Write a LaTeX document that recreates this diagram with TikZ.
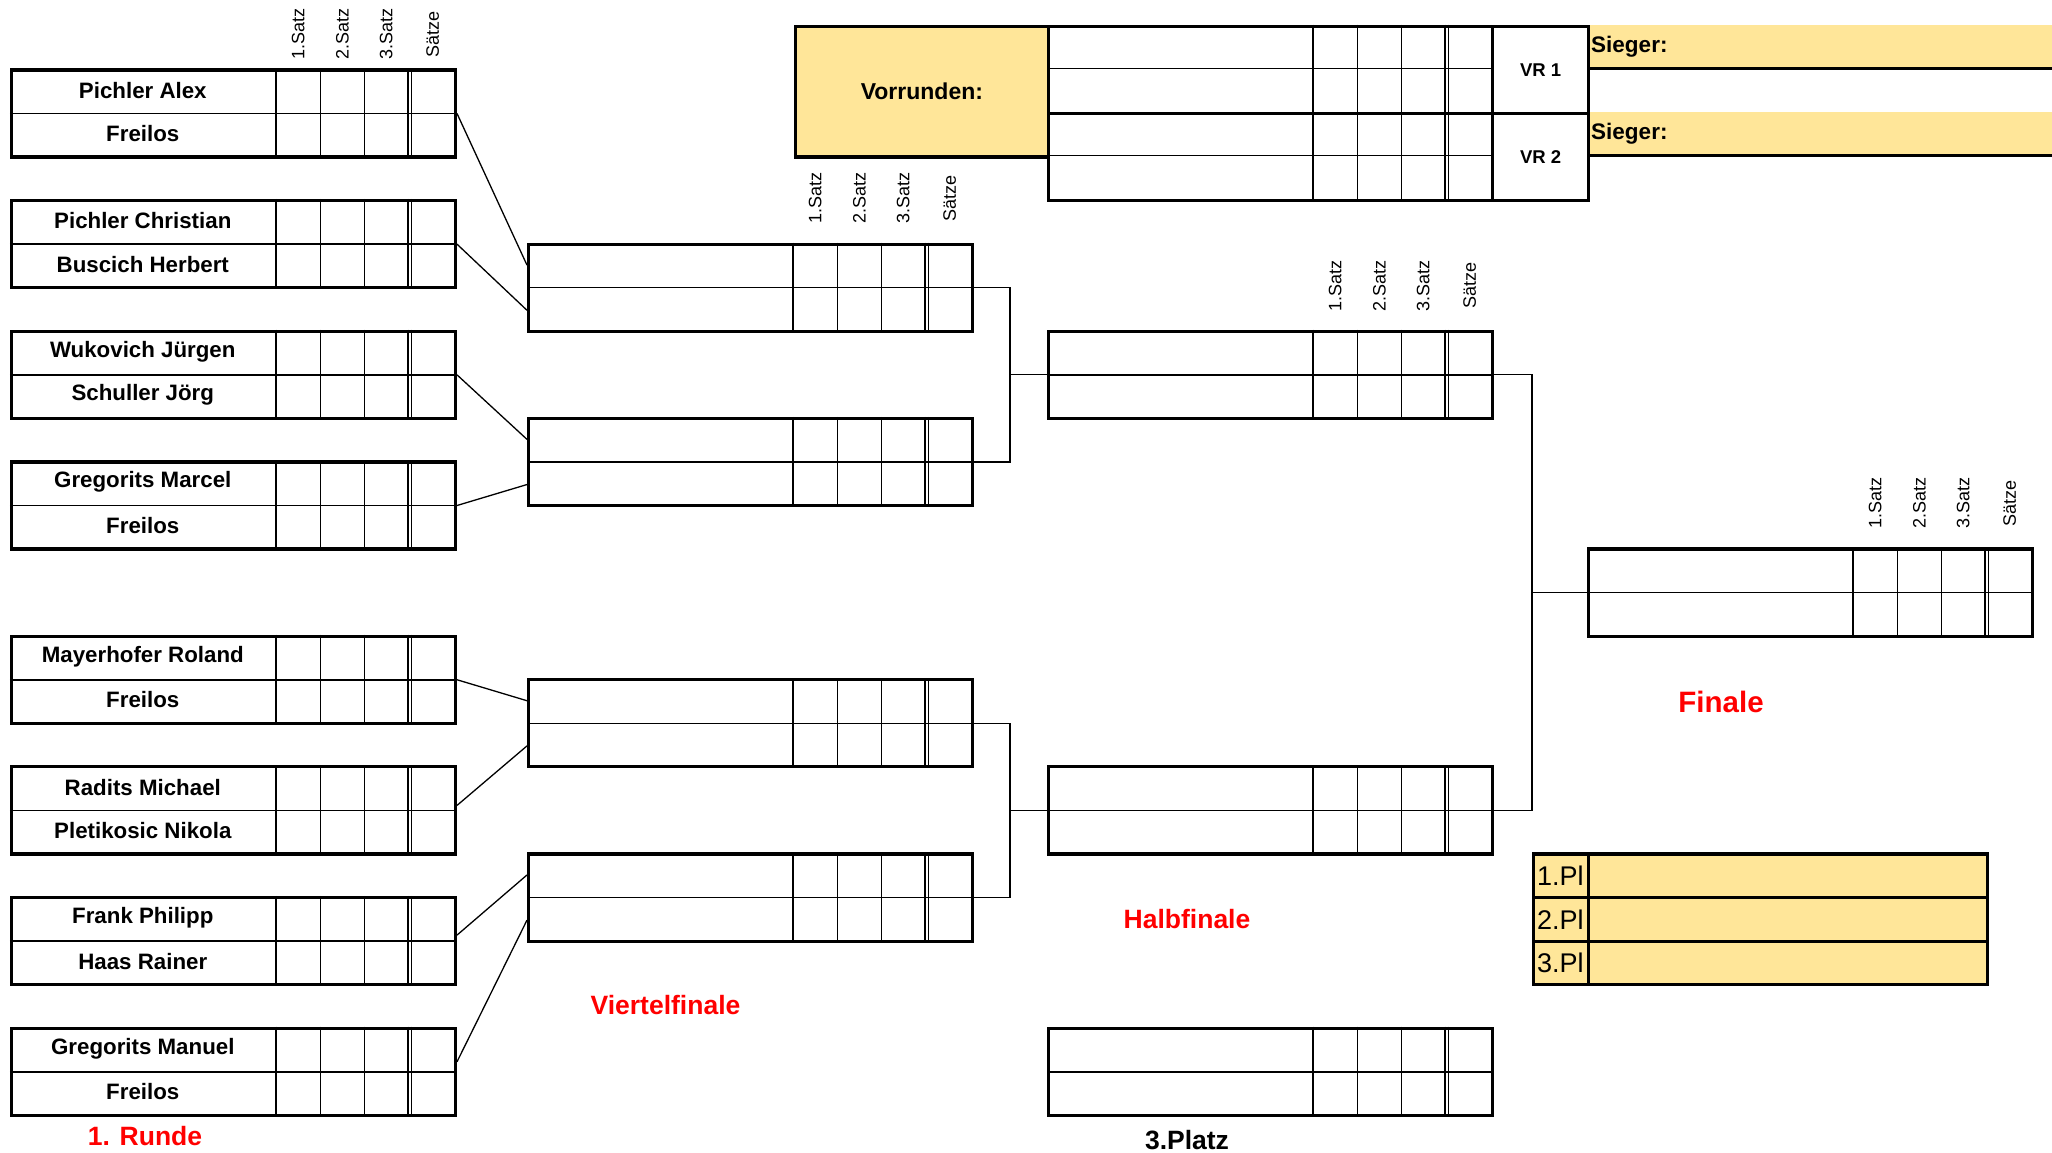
\documentclass[tikz,border=0pt]{standalone}
\usepackage{fontspec}
\setmainfont{Liberation Sans}
\usetikzlibrary{calc}
\definecolor{gold}{HTML}{FFE699}
\definecolor{lblred}{HTML}{FF0000}
\tikzset{
  boxshape/.style={draw, line width=3.2pt, rectangle, anchor=north west, inner sep=0pt, minimum width=444pt, minimum height=87.12pt},
  gridline/.style={line width=1.5pt},
  thickline/.style={line width=3.2pt},
  conn/.style={line width=1.3pt},
  namefont/.style={font=\fontsize{22.3}{25}\selectfont\bfseries, inner sep=0pt},
  headfont/.style={font=\fontsize{18}{20}\selectfont, rotate=90, inner sep=0pt},
  roundlabel/.style={font=\fontsize{26.5}{30}\selectfont\bfseries, text=lblred, inner sep=0pt},
  blacklabel/.style={font=\fontsize{26.5}{30}\selectfont\bfseries, inner sep=0pt},
  vrfont/.style={font=\fontsize{18.5}{20}\selectfont\bfseries, inner sep=0pt},
  plfont/.style={font=\fontsize{27}{30}\selectfont, inner sep=0pt, anchor=west},
  siegerfont/.style={font=\fontsize{22.5}{25}\selectfont\bfseries, inner sep=0pt, anchor=west},
  goldcell/.style={draw, line width=3.2pt, fill=gold, rectangle, anchor=north west, inner sep=0pt},
}
\newcommand{\matchbox}[5]{%
  \node[boxshape] (#1) at (#2,#3) {};
  \draw[gridline] (#1.west) -- (#1.east);
  \foreach \dx in {266,310.5,354.5,398,401.5}
    \draw[gridline] ($(#1.north west)+(\dx,0)$) -- ($(#1.south west)+(\dx,0)$);
  \node[namefont] (#1-a) at ($(#1.north west)+(133,21.78)$) {#4};
  \node[namefont] (#1-b) at ($(#1.north west)+(133,65.34)$) {#5};
}
\newcommand{\satzheads}[3]{%
  \node[headfont] (#1-h1) at (#2+288.25,#3) {1.Satz};
  \node[headfont] (#1-h2) at (#2+332.5,#3) {2.Satz};
  \node[headfont] (#1-h3) at (#2+376.25,#3) {3.Satz};
  \node[headfont] (#1-h4) at (#2+422.75,#3) {Sätze};
}
\begin{document}
\begin{tikzpicture}[x=1pt,y=-1pt]
\useasboundingbox (0,0) rectangle (2052,1152);
\fill[white] (0,0) rectangle (2052,1152);

% ---------- round 1 ----------
\matchbox{m1}{9.8}{68.3}{Pichler Alex}{Freilos}
\matchbox{m2}{9.8}{198.98}{Pichler Christian}{Buscich Herbert}
\matchbox{m3}{9.8}{329.66}{Wukovich Jürgen}{Schuller Jörg}
\matchbox{m4}{9.8}{460.34}{Gregorits Marcel}{Freilos}
\matchbox{m5}{9.8}{634.58}{Mayerhofer Roland}{Freilos}
\matchbox{m6}{9.8}{765.26}{Radits Michael}{Pletikosic Nikola}
\matchbox{m7}{9.8}{895.94}{Frank Philipp}{Haas Rainer}
\matchbox{m8}{9.8}{1026.62}{Gregorits Manuel}{Freilos}
\satzheads{hr1}{9.8}{34.2}

% ---------- quarterfinals ----------
\matchbox{q1}{527}{242.54}{}{}
\matchbox{q2}{527}{416.78}{}{}
\matchbox{q3}{527}{678.14}{}{}
\matchbox{q4}{527}{852.38}{}{}
\satzheads{hqf}{527}{198}

% ---------- semifinals ----------
\matchbox{s1}{1047}{329.66}{}{}
\matchbox{s2}{1047}{765.26}{}{}
\matchbox{s3}{1047}{1026.62}{}{}
\satzheads{hsf}{1047}{285.8}

% ---------- final ----------
\matchbox{f1}{1587}{547.46}{}{}
\satzheads{hf}{1587}{503}

% ---------- connectors round 1 -> QF ----------
\draw[conn] (m1.east) -- ($(q1.north west)!0.5!(q1.west)$);
\draw[conn] (m2.east) -- ($(q1.south west)!0.5!(q1.west)$);
\draw[conn] (m3.east) -- ($(q2.north west)!0.5!(q2.west)$);
\draw[conn] (m4.east) -- ($(q2.south west)!0.5!(q2.west)$);
\draw[conn] (m5.east) -- ($(q3.north west)!0.5!(q3.west)$);
\draw[conn] ($(m6.east)+(0,-5)$) -- ($(q3.south west)!0.5!(q3.west)$);
\draw[conn] ($(m7.east)+(0,-6)$) -- ($(q4.north west)!0.5!(q4.west)$);
\draw[conn] ($(m8.east)+(0,-10)$) -- ($(q4.south west)!0.5!(q4.west)$);

% ---------- connectors QF -> SF ----------
\coordinate (j1) at (1010,0);
\coordinate (j2) at (1532,0);
\draw[conn] (q1.east) -- (q1.east -| j1) -- (q2.east -| j1) -- (q2.east);
\draw[conn] (s1.west -| j1) -- (s1.west);
\draw[conn] (q3.east) -- (q3.east -| j1) -- (q4.east -| j1) -- (q4.east);
\draw[conn] (s2.west -| j1) -- (s2.west);

% ---------- connectors SF -> final ----------
\draw[conn] (s1.east) -- (s1.east -| j2) -- (s2.east -| j2) -- (s2.east);
\draw[conn] (f1.west -| j2) -- (f1.west);

% ---------- Vorrunden ----------
\node[goldcell, minimum width=253.4pt, minimum height=130.68pt] (vor) at (793.6,24.74) {};
\node[font=\fontsize{23}{26}\selectfont\bfseries, inner sep=0pt] (vortext) at (vor.center) {Vorrunden:};
\node[draw, line width=3.2pt, rectangle, anchor=north west, inner sep=0pt, minimum width=444pt, minimum height=174.24pt] (vr) at (1047,24.74) {};
\draw[gridline] ($(vr.north west)+(0,43.56)$) -- ($(vr.north east)+(0,43.56)$);
\draw[gridline] ($(vr.north west)+(0,130.68)$) -- ($(vr.north east)+(0,130.68)$);
\draw[thickline] (vr.west) -- (vr.east);
\foreach \dx in {266,310.5,354.5,398,401.5}
  \draw[gridline] ($(vr.north west)+(\dx,0)$) -- ($(vr.south west)+(\dx,0)$);

% Sieger bars
\node[fill=gold, rectangle, anchor=north west, inner sep=0pt, minimum width=470pt, minimum height=43.56pt] (sg1) at (1587,24.74) {};
\node[fill=gold, rectangle, anchor=north west, inner sep=0pt, minimum width=470pt, minimum height=43.56pt] (sg2) at (1587,111.86) {};
\draw[thickline] (sg1.south west) -- (sg1.south east);
\draw[thickline] (sg2.south west) -- (sg2.south east);
\node[siegerfont] (sg1t) at ($(sg1.west)+(4,0)$) {Sieger:};
\node[siegerfont] (sg2t) at ($(sg2.west)+(4,0)$) {Sieger:};

% VR label boxes
\node[draw, line width=3.2pt, rectangle, anchor=north west, inner sep=0pt, minimum width=96pt, minimum height=87.12pt] (vr1) at (1491,24.74) {};
\node[draw, line width=3.2pt, rectangle, anchor=north west, inner sep=0pt, minimum width=96pt, minimum height=87.12pt] (vr2) at (1491,111.86) {};
\node[vrfont] (vr1t) at (vr1.center) {VR 1};
\node[vrfont] (vr2t) at (vr2.center) {VR 2};

% ---------- placement table ----------
\node[goldcell, minimum width=399pt, minimum height=43.56pt] (p1v) at (1587,852.38) {};
\node[goldcell, minimum width=399pt, minimum height=43.56pt] (p2v) at (1587,895.94) {};
\node[goldcell, minimum width=399pt, minimum height=43.56pt] (p3v) at (1587,939.5) {};
\node[goldcell, minimum width=55pt, minimum height=43.56pt] (p1l) at (1532,852.38) {};
\node[goldcell, minimum width=55pt, minimum height=43.56pt] (p2l) at (1532,895.94) {};
\node[goldcell, minimum width=55pt, minimum height=43.56pt] (p3l) at (1532,939.5) {};
\node[plfont] (p1t) at ($(p1l.west)+(5,0)$) {1.Pl};
\node[plfont] (p2t) at ($(p2l.west)+(5,0)$) {2.Pl};
\node[plfont] (p3t) at ($(p3l.west)+(5,0)$) {3.Pl};

% ---------- labels ----------
\node[roundlabel] (lr1) at (145,1136) {1. Runde};
\node[roundlabel] (lqf) at (665.5,1005.5) {Viertelfinale};
\node[roundlabel] (lsf) at (1187,918.8) {Halbfinale};
\node[roundlabel, font=\fontsize{29.5}{33}\selectfont\bfseries] (lfi) at (1721,701.5) {Finale};
\node[blacklabel] (l3p) at (1187,1140) {3.Platz};
\end{tikzpicture}
\end{document}
